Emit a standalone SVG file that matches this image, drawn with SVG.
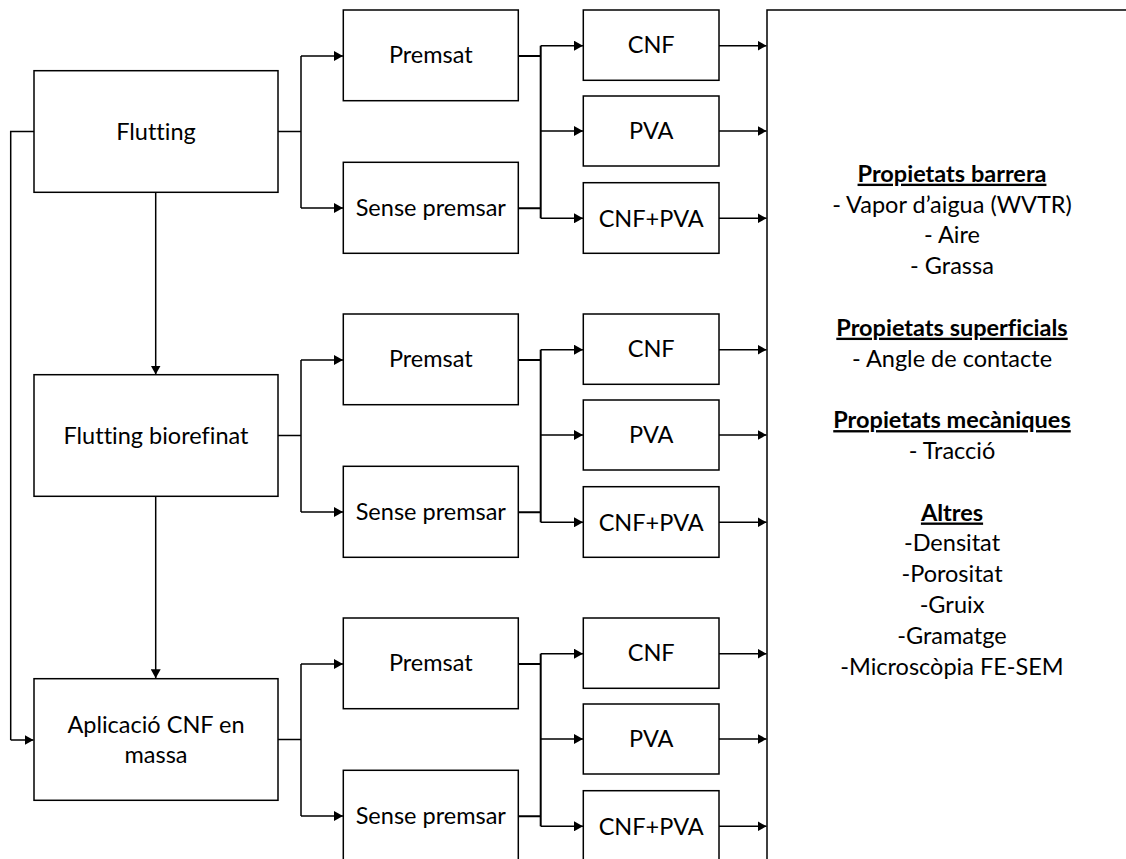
<svg xmlns="http://www.w3.org/2000/svg" width="1126" height="859" viewBox="0 0 1126 859">
<style>
.box{fill:#fff;stroke:#000;stroke-width:1.5}
.t{font-family:Lato,"Liberation Sans",sans-serif;font-size:23.5px;fill:#000;text-anchor:middle;font-variant-ligatures:none;font-feature-settings:"liga" 0}
.h{font-weight:bold;text-decoration:underline}
.c{fill:none;stroke:#000;stroke-width:1.5}
.ca{fill:none;stroke:#000;stroke-width:1.5;marker-end:url(#ah)}
</style>
<defs>
<marker id="ah" markerUnits="userSpaceOnUse" markerWidth="9" markerHeight="10" refX="9" refY="5" orient="auto">
<path d="M0,0 L9,5 L0,10 z" fill="#000"/>
</marker>
</defs>
<rect width="1126" height="859" fill="#fff"/>
<g id="connectors">
<path class="c" d="M34,131.5 H10.7 V740"/>
<path class="ca" d="M10.7,740 H33.5"/>
<path class="ca" d="M155.7,192.3 V374.5"/>
<path class="ca" d="M155.7,496 V678.3"/>
<path class="c" d="M278,131.5 H301 M301,56 V208"/>
<path class="ca" d="M301,56 H343"/>
<path class="ca" d="M301,208 H343"/>
<path class="c" d="M518.3,56 H540.7 M518.3,208.3 H540.7 M540.7,45.7 V218.3" style="stroke-width:2"/>
<path class="ca" d="M540.7,45.7 H583"/>
<path class="ca" d="M540.7,131 H583"/>
<path class="ca" d="M540.7,218.3 H583"/>
<path class="ca" d="M719,45.7 H766.5"/>
<path class="ca" d="M719,131 H766.5"/>
<path class="ca" d="M719,218.3 H766.5"/>
<path class="c" d="M278,435.5 H301 M301,360 V512"/>
<path class="ca" d="M301,360 H343"/>
<path class="ca" d="M301,512 H343"/>
<path class="c" d="M518.3,360 H540.7 M518.3,512.3 H540.7 M540.7,349.7 V522.3" style="stroke-width:2"/>
<path class="ca" d="M540.7,349.7 H583"/>
<path class="ca" d="M540.7,435 H583"/>
<path class="ca" d="M540.7,522.3 H583"/>
<path class="ca" d="M719,349.7 H766.5"/>
<path class="ca" d="M719,435 H766.5"/>
<path class="ca" d="M719,522.3 H766.5"/>
<path class="c" d="M278,739.5 H301 M301,664 V816"/>
<path class="ca" d="M301,664 H343"/>
<path class="ca" d="M301,816 H343"/>
<path class="c" d="M518.3,664 H540.7 M518.3,816.3 H540.7 M540.7,653.7 V826.3" style="stroke-width:2"/>
<path class="ca" d="M540.7,653.7 H583"/>
<path class="ca" d="M540.7,739 H583"/>
<path class="ca" d="M540.7,826.3 H583"/>
<path class="ca" d="M719,653.7 H766.5"/>
<path class="ca" d="M719,739 H766.5"/>
<path class="ca" d="M719,826.3 H766.5"/>
</g>
<g id="flutting"><rect class="box" x="34" y="70.7" width="244" height="121.6"/><text class="t" x="156" y="140">Flutting</text></g>
<g id="flutting-biorefinat"><rect class="box" x="34" y="374.7" width="244" height="121.6"/><text class="t" x="156" y="444">Flutting biorefinat</text></g>
<g id="aplicacio"><rect class="box" x="34" y="678.7" width="244" height="121.6"/><text class="t" x="156" y="733.3">Aplicació CNF en</text><text class="t" x="156" y="763.3">massa</text></g>

<g id="premsat-1"><rect class="box" x="343.3" y="10" width="175" height="90.7"/><text class="t" x="430.8" y="63.3">Premsat</text></g>
<g id="sense-1"><rect class="box" x="343.3" y="162.3" width="175" height="91"/><text class="t" x="430.8" y="216">Sense premsar</text></g>
<g id="premsat-2"><rect class="box" x="343.3" y="314" width="175" height="90.7"/><text class="t" x="430.8" y="367.3">Premsat</text></g>
<g id="sense-2"><rect class="box" x="343.3" y="466.3" width="175" height="91"/><text class="t" x="430.8" y="520">Sense premsar</text></g>
<g id="premsat-3"><rect class="box" x="343.3" y="618" width="175" height="90.7"/><text class="t" x="430.8" y="671.3">Premsat</text></g>
<g id="sense-3"><rect class="box" x="343.3" y="770.3" width="175" height="91"/><text class="t" x="430.8" y="824">Sense premsar</text></g>

<g id="cnf-1"><rect class="box" x="583.3" y="10" width="135.7" height="70.3"/><text class="t" x="651.2" y="52.7">CNF</text></g>
<g id="pva-1"><rect class="box" x="583.3" y="96" width="135.7" height="70"/><text class="t" x="651.2" y="139.3">PVA</text></g>
<g id="cnfpva-1"><rect class="box" x="583.3" y="182.7" width="135.7" height="70.6"/><text class="t" x="651.2" y="226.7">CNF+PVA</text></g>
<g id="cnf-2"><rect class="box" x="583.3" y="314" width="135.7" height="70.3"/><text class="t" x="651.2" y="356.7">CNF</text></g>
<g id="pva-2"><rect class="box" x="583.3" y="400" width="135.7" height="70"/><text class="t" x="651.2" y="443.3">PVA</text></g>
<g id="cnfpva-2"><rect class="box" x="583.3" y="486.7" width="135.7" height="70.6"/><text class="t" x="651.2" y="530.7">CNF+PVA</text></g>
<g id="cnf-3"><rect class="box" x="583.3" y="618" width="135.7" height="70.3"/><text class="t" x="651.2" y="660.7">CNF</text></g>
<g id="pva-3"><rect class="box" x="583.3" y="704" width="135.7" height="70"/><text class="t" x="651.2" y="747.3">PVA</text></g>
<g id="cnfpva-3"><rect class="box" x="583.3" y="790.7" width="135.7" height="70.6"/><text class="t" x="651.2" y="834.7">CNF+PVA</text></g>

<g id="properties">
<path class="c" d="M1130,10 H767 V870"/>
<text class="t h" x="952" y="181.7">Propietats barrera</text>
<text class="t" x="952" y="212.5">- Vapor d’aigua (WVTR)</text>
<text class="t" x="952" y="243.3">- Aire</text>
<text class="t" x="952" y="274.1">- Grassa</text>
<text class="t h" x="952" y="335.7">Propietats superficials</text>
<text class="t" x="952" y="366.5">- Angle de contacte</text>
<text class="t h" x="952" y="428.1">Propietats mecàniques</text>
<text class="t" x="952" y="458.9">- Tracció</text>
<text class="t h" x="952" y="520.5">Altres</text>
<text class="t" x="952" y="551.3">-Densitat</text>
<text class="t" x="952" y="582.1">-Porositat</text>
<text class="t" x="952" y="612.9">-Gruix</text>
<text class="t" x="952" y="643.7">-Gramatge</text>
<text class="t" x="952" y="674.5">-Microscòpia FE-SEM</text>
</g>
</svg>
